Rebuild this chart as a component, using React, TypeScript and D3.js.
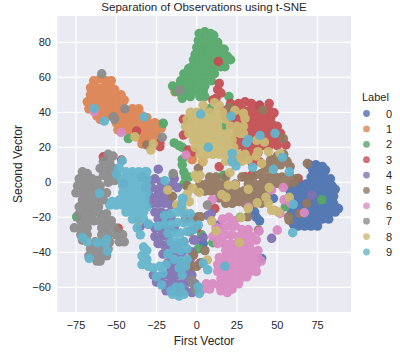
import React from "react";
import * as d3 from "d3";

type P = [number, number];

const labels = ["0", "1", "2", "3", "4", "5", "6", "7", "8", "9"];
const colors = ["#4C72B0", "#DD8452", "#55A868", "#C44E52", "#8172B3", "#937860", "#DA8BC3", "#8C8C8C", "#CCB974", "#64B5CD"];
const xTicks = [-75, -50, -25, 0, 25, 50, 75];
const yTicks = [-60, -40, -20, 0, 20, 40, 60, 80];

const label0: P[] = [
  [70,10],[74,10],[78,9],[72,7],[76,6],[80,7],[71,3],[75,3],[79,3],[83,2],
  [60,-1],[64,-1],[68,-1],[72,-1],[76,-1],[80,-1],[84,-2],[58,-5],[62,-5],[66,-5],[70,-5],[74,-5],[78,-5],[82,-5],[86,-4],
  [57,-9],[61,-9],[65,-9],[69,-9],[73,-9],[77,-9],[81,-9],[85,-8],[58,-13],[62,-13],[66,-13],[70,-13],[74,-13],[78,-13],[82,-13],[85,-12],[88,-15],
  [59,-17],[63,-17],[67,-17],[71,-17],[75,-17],[79,-17],[83,-17],[86,-17],[62,-21],[66,-21],[70,-21],[74,-21],[78,-21],[82,-21],
  [63,-25],[67,-25],[71,-25],[75,-25],[60,-24],
  [36,-17],[37,-20],[39,-22],[34,-15],[47.6,-9.2],[40.3,-43.5],[39,44],[4,-35],
];

const label1: P[] = [
  [-64,58],[-60,59],[-56,58],[-53,58],[-66,54],[-62,54],[-58,54],[-54,54],[-51,53],[-66,50],[-62,50],[-58,50],[-54,50],[-50,50],[-47,50],
  [-68,46],[-64,46],[-60,46],[-56,46],[-52,46],[-48,46],[-45,47],[-67,42],[-63,42],[-59,42],[-55,42],[-51,42],[-47,42],[-44,41],[-40,42],[-36,42],
  [-62,38],[-58,38],[-54,38],[-50,38],[-46,38],[-42,38],[-38,38],[-34,38],[-31,37],[-60,36],[-50,34],[-46,34],[-42,34],[-38,34],[-34,34],[-30,34],[-26,34],[-23,33],
  [-49,30],[-45,30],[-41,30],[-37,30],[-33,30],[-29,30],[-25,30],[-22,31],[-37,26],[-33,26],[-29,26],[-25,26],[-34,22],[-30,23],[-26,25],[-13.5,51.7],[-2.8,13],[3.5,11.7],[-3,13],
];

const label2: P[] = [
  [1.5,85],[5,86],[8.5,85],[10.5,84],[1,81],[4,81],[7,81],[10,81],[13,80],[0,77],[3.5,77],[7,77],[10.5,77],[14,77],[17,76],
  [-1,73],[3,73],[7,73],[11,73],[15,73],[19,72],[-2,70],[2,70],[6,70],[10,70],[14,70],[18,70],[21,70],[-3,66],[0,66],[4,66],[8,66],[12,66],[15,66],[-5,65],[17.5,66],
  [-8,62],[-5,62],[-1,62],[3,62],[7,62],[11,62],[-10,58],[-6,58],[-2,58],[2,58],[6,58],[9,58],[-15,55],[-11,55],[-7,55],[-3,55],[1,55],[5,55],
  [-13,52],[-9,52],[-5,52],[0,52],[4,52],[-9,49],[-4,49],[2,49],[5,49],[20,49],[8,42],[-9,48],
  [-14,22.5],[-11,21],[-9,20],[-9,10],[-8,6],[-7,3],[-8,-1],[-6,-2],[-14.6,4],[-9,13],[-5,3],[17.6,32],[16.5,4],[77.6,-10],[55,-14],[3,-30],[1,-38],[10,-34.5],[27,-20],[-20.8,33.7],[-42.5,25],[-74.6,-19.7],
];

const label3: P[] = [
  [21,45],[26,45],[30,46],[34,45],[39,44],[45,45],[17,41],[21,41],[25,41],[29,41],[33,41],[37,41],[41,41],[45,41],[48,39.7],
  [18,37],[22,37],[26,37],[30,37],[34,37],[38,37],[42,37],[46,37],[22,33],[28,33],[31,33],[35,33],[39,33],[43,33],[47,33],[50,32],
  [25,29],[29,29],[33,29],[37,29],[41,29],[45,29],[49,29],[52,28],[24,25],[28,25],[32,25],[36,25],[40,25],[44,25],[48,25],[52,25],
  [25,21],[29,21],[33,21],[37,21],[41,21],[45,21],[50,21],[55.4,21.3],[30,17],[34,17],[38,17],[27,14],[34,11.7],[39,11.7],[30,3.2],[34,4],[63,2.2],
  [14,56.5],[13,53],[15,51],[12,48],[10,47],[13.4,69],[14,8.9],[-8.3,36],[-8.3,27],[-5.3,18.4],[-2,17.5],[-22.9,22.2],[-22.9,20.3],[-37.4,29.3],[-58,14.6],[-46.7,12.7],
  [11.3,-15],[0,-26.3],[-48.7,-26.3],[2,-46.3],[-2,-20.6],[-7,-21],
];

const label4: P[] = [
  [-34,3],[-30,1],[-26,2],[-22,0],[-23.9,7.5],[-45.6,-0.6],[-32,-3],[-28,-3],[-24,-4],[-20,-3],[-29,-8],[-25,-8],[-21,-8],[-17,-8],[-28,-12],[-24,-12],[-20,-12],[-16,-13],
  [-26,-17],[-22,-17],[-18,-18],[-24,-21],[-20,-22],[-16,-20],[-35,-25],[-30,-24],[-26,-26],[-22,-27],[-18,-27],[-14,-26],[-26,-31],[-22,-31],[-18,-31],[-24,-35],[-20,-36],[-16,-36],[-12,-36],[-8,-34],
  [-21,-41],[-17,-41],[-13,-41],[-9,-40],[-18,-46],[-14,-46],[-10,-46],[-6,-46],[-16,-50],[-12,-50],[-8,-50],[-4,-50],
  [-27,-53],[-23,-54],[-19,-53],[-15,-54],[-11,-53],[-7,-53],[-3,-53],[-25,-57],[-21,-58],[-17,-58],[-13,-58],[-9,-58],[-5,-57],[-1,-58],[-19,-62],[-15,-62],[-11,-63],[-7,-62],[-3,-63],[-1,-61],
  [-1,-33],[-3.2,-39.7],[-4,-44],[9,-17.8],[7,-19],[13.4,-24.4],[4,-31.5],[-2,-33],[46.5,-32],[71.4,-7.3],[-14,2],[-12,-3],[-16,-2],
];

const label5: P[] = [
  [46,13],[50,15],[54,16],[56,12],[52,10],[48,9],[44,10],[43,8],[40,5],[58,9],[53,13],[49,12],
  [8,3],[12,3],[18,3],[28,3],[32,2],[36,4],[41,3],[45,3],[49,3],[53,3],[58,3],[62,2],
  [2,-1],[6,-1],[10,-1],[14,-1],[18,-1],[24,-1],[32,-1],[36,-1],[40,-1],[44,-1],[48,-1],[52,-1],[56,-1],[60,0],
  [1,-5],[5,-5],[9,-5],[13,-5],[17,-5],[21,-5],[25,-5],[29,-5],[33,-5],[37,-5],[41,-5],[45,-5],[14,-9],[18,-9],[22,-9],[26,-9],[30,-9],[34,-9],[38,-9],[42,-9],[18,-12],[22,-12],[26,-11],[30,-12],[36,-12],[40,-12],
  [57.3,-21.6],[56.9,-19.7],[64,-17.8],[68.3,-12],[68.7,10.8],[38.3,-27.3],[31.6,-19.7],[5.1,-39],[2.4,-19.7],[1,-19.7],[1,8],[0,-48],[-3,-48],[3,-46],[-2,-41.6],[53.8,25],[41,41.3],[20.2,42.8],[-31,21.3],[-6,-2],[-15,-8],
];

const label6: P[] = [
  [16,-21],[20,-20],[23,-22],[12,-26],[16,-26],[20,-25],[24,-25],[28,-27],[32,-27],[10,-31],[14,-31],[18,-30],[22,-30],[26,-31],[30,-31],[34,-31],[37,-33],
  [13,-35],[17,-35],[21,-35],[25,-35],[29,-35],[33,-35],[18,-39],[22,-39],[26,-39],[30,-39],[34,-39],[38,-39],[14,-43],[18,-43],[22,-43],[26,-43],[30,-43],[34,-43],[38,-43],[40,-45],
  [13,-47],[17,-47],[21,-47],[25,-47],[29,-47],[33,-47],[37,-47],[13,-51],[17,-51],[21,-51],[25,-51],[29,-51],[33,-51],[37,-51],[15,-55],[19,-55],[23,-55],[27,-55],[31,-54],
  [6,-58],[10,-58],[14,-59],[18,-59],[22,-59],[26,-58],[4,-61],[8,-61],[15,-62],[19,-63],[22,-61],
  [50,-27.3],[38.7,-27.9],[53.8,-3],[9.7,-10],[66.8,-17.4],[32,-14.3],[46.5,-4.4],[51.7,-17.8],[54.2,-10],[58.3,-12],[-6.7,15.6],[-63.7,40.3],[-47,28.5],
];

const label7: P[] = [
  [-55,16],[-52,15],[-58,12],[-54,11],[-60,8],[-56,7],[-52,8],[-58,4],[-54,3],[-50,5],[-55,0],[-51,1],
  [-71,6],[-68,5],[-73,2],[-69,2],[-65,2],[-62,1],[-74,-2],[-70,-2],[-66,-2],[-62,-2],[-60,-2],[-75,-6],[-71,-6],[-67,-6],[-63,-6],[-59,-6],[-56,-6],
  [-71,-10],[-67,-10],[-63,-10],[-58,-10],[-73,-14],[-69,-14],[-65,-14],[-61,-14],[-73,-18],[-69,-18],[-65,-18],[-60,-18],[-56,-18],
  [-72,-22],[-68,-22],[-64,-22],[-60,-22],[-56,-22],[-53,-22],[-76,-26],[-72,-26],[-68,-26],[-59,-26],[-55,-26],[-51,-26],
  [-72,-30],[-68,-30],[-59,-30],[-55,-30],[-50,-30],[-48,-29],[-46,-30],[-71,-33],[-63,-34],[-58,-34],[-54,-34],[-48,-34],[-45,-34],
  [-66,-38],[-62,-38],[-58,-38],[-55,-38],[-67,-42],[-63,-42],[-59,-42],[-56,-42],[-62,-45],[-60,-45],
  [-59,62],[-11,52.3],[-10.4,52.7],[-51.8,37.5],[-51,36],[-44.6,42],[-21.4,25.7],[-14.6,5],[-2,-58],[-1,-61.6],[-3,-56],[-4.2,-28.3],[6.6,-13],
];

const label8: P[] = [
  [4,44],[11,45.5],[14,44],[-4,40],[0,40],[4,40],[8,40],[12,40],[16,40],[-6,36],[-2,36],[2,36],[6,36],[10,36],[14,36],[18,36],
  [-7,32],[-3,32],[1,32],[5,32],[9,32],[13,32],[21,32],[25,32],[29,32],[-5,28],[-1,28],[3,28],[7,28],[11,28],[15,28],[19,28],[23,28],[27,28],
  [-2,24],[2,24],[6,24],[10,24],[14,24],[18,24],[22,24],[-1,20],[3,20],[7,20],[11,20],[15,20],[19,20],[23,20],[2,16],[6,16],[10,16],[14,16],[17,16],[22,16],[26,16],[30,16],
  [4,12],[18,12],[24,12],[28,12],[32,13],[38,17.5],[37,15],[44.5,17.5],[37.2,24],[42,23],[51.7,16.5],[40.3,10.8],[29,39.4],[23.8,41],[30,36.5],[29,28],
  [-38.4,26],[-27,22],[-28.5,18.4],[-36.3,-22.2],[-18,-4.4],[-2.8,-3.5],[-5.9,-6.7],[-4.6,-11.1],[-12.5,-13],
  [0.4,2.2],[-1,4],[2,4],[-2.5,-3.5],[1.6,-5.8],[19.6,-1.6],[23.8,-1.6],[32,-4],[15.5,-7],[18.2,-8.6],[45,-3],[43,-8.6],[37.6,-11.7],[44.5,-12],[46.5,-16],[48.6,-16],[50.7,-17],[32,-15],[27.5,-20.2],[9.3,-22],[12,-27.8],[26.5,-34.4],[57.5,-8.6],[6.6,-44.4],[20.6,5.5],[-8.3,-16],
];

const label9: P[] = [
  [-44,6],[-40,6],[-36,6],[-32,6],[-47,2],[-43,2],[-39,2],[-35,2],[-31,2],[-46,-2],[-42,-2],[-38,-2],[-34,-2],[-31,-2],[-46,-6],[-42,-6],[-38,-6],[-34,-6],[-31,-6],
  [-48,-10],[-44,-10],[-40,-10],[-36,-10],[-32,-10],[-54,-13],[-50,-13],[-46,-13],[-42,-13],[-38,-13],[-34,-13],[-31,-14],[-44,-17],[-40,-17],[-36,-17],[-33,-17],[-40,-21],[-36,-21],[-33,-21],
  [-20,-19],[-16,-18],[-12,-17],[-8,-18],[-4,-18],[-24,-25],[-20,-24],[-16,-24],[-12,-23],[-8,-23],[-4,-23],[-37,-26],[-35,-30],[-30,-24],[-18,-29],[-14,-29],[-10,-29],[-6,-28],[-2,-27],[-16,-34],[-12,-34],[-8,-34],[-14,-38],[-10,-39],[-6,-38],
  [-33,-37],[-31,-39],[-34,-42],[-31,-44],[-34,-47],[-30,-48],[-27,-49],[-23,-48],[-19,-47],[-21,-52],[-14,-44],[-18,-41],[-10,-45],[-6,-44],[-11,-49],[-7,-48],[-9,-53],[-7,-46],[-25,-54],[-21.8,-58.7],
  [-16,-62],[-13,-60],[-10,-60],[-15,-64],[-11,-65],[-8,-64],
  [1.6,-63.5],[1,-59.7],[4,-46.3],[6.8,-50],[17.5,-48],[59.6,-28.8],[60,-12.6],[57.5,6],[47.6,7.4],[34.7,8.5],[24.4,9.3],[22,11.7],[1,-24.4],[-8.7,-9.2],
  [2.4,39],[7.2,20],[21.3,37.8],[39.3,26.8],[32,24.5],[31,22.6],[48.6,28],[22,16.5],[22,12.3],[53.2,14.2],[-63.7,42.2],[-57.4,35],[-32.6,37.3],[-46.3,12.3],[-48.3,8.3],[-31,6],
  [-60.5,-6.3],[-71,-31.5],[-67.8,-34],[-61.8,-34.5],[-56.6,-35],[-56,-32.6],[-55.6,-39.3],[-66.8,-43.5],[-49.8,4.7],[-48.3,8],[-52.5,-11],[-19.8,0.9],[-8.8,-9.2],[-9.4,-13],
];

const series = [label0, label1, label2, label3, label4, label5, label6, label7, label8, label9];

const plot = { left: 57.3, right: 351, top: 16, bottom: 312 };
const x = d3.scaleLinear().domain([-86.6, 95.8]).range([plot.left, plot.right]);
const y = d3.scaleLinear().domain([-74.1, 95]).range([plot.bottom, plot.top]);
const legendY = d3.scaleLinear().domain([0, 9]).range([113.5, 252]);
const minus = (v: number) => String(v).replace("-", "\u2212");
const ink = "#262626";
const font = "'Liberation Sans', Arial, sans-serif";

export default function App() {
  return (
    <svg width={400} height={352} style={{ position: "absolute", left: 0, top: 0, background: "#fff" }} fontFamily={font}>
      <rect x={plot.left} y={plot.top} width={plot.right - plot.left} height={plot.bottom - plot.top} fill="#EAEAF2" />
      {xTicks.map((t) => (
        <line key={t} x1={x(t)} x2={x(t)} y1={plot.top} y2={plot.bottom} stroke="#fff" strokeWidth={1.25} />
      ))}
      {yTicks.map((t) => (
        <line key={t} x1={plot.left} x2={plot.right} y1={y(t)} y2={y(t)} stroke="#fff" strokeWidth={1.25} />
      ))}
      {series.map((pts, i) => (
        <g key={i} fill={colors[i]} opacity={0.94}>
          {pts.map((p, j) => (
            <circle key={j} cx={x(p[0])} cy={y(p[1])} r={4.75} />
          ))}
        </g>
      ))}
      {xTicks.map((t) => (
        <text key={t} x={x(t)} y={329} textAnchor="middle" fontSize={11} fill={ink}>{minus(t)}</text>
      ))}
      {yTicks.map((t) => (
        <text key={t} x={51} y={y(t) + 4} textAnchor="end" fontSize={11} fill={ink}>{minus(t)}</text>
      ))}
      <text x={204} y={11} textAnchor="middle" fontSize={11.6} fill={ink}>Separation of Observations using t-SNE</text>
      <text x={204} y={345} textAnchor="middle" fontSize={12} fill={ink}>First Vector</text>
      <text transform="translate(22,164) rotate(-90)" textAnchor="middle" fontSize={12} fill={ink}>Second Vector</text>
      <text x={362} y={101} fontSize={11} fill={ink}>Label</text>
      {labels.map((l, i) => (
        <g key={l}>
          <circle cx={366.5} cy={legendY(i)} r={3.4} fill={colors[i]} fillOpacity={0.8} />
          <text x={386} y={legendY(i) + 4} fontSize={11} fill={ink}>{l}</text>
        </g>
      ))}
    </svg>
  );
}
